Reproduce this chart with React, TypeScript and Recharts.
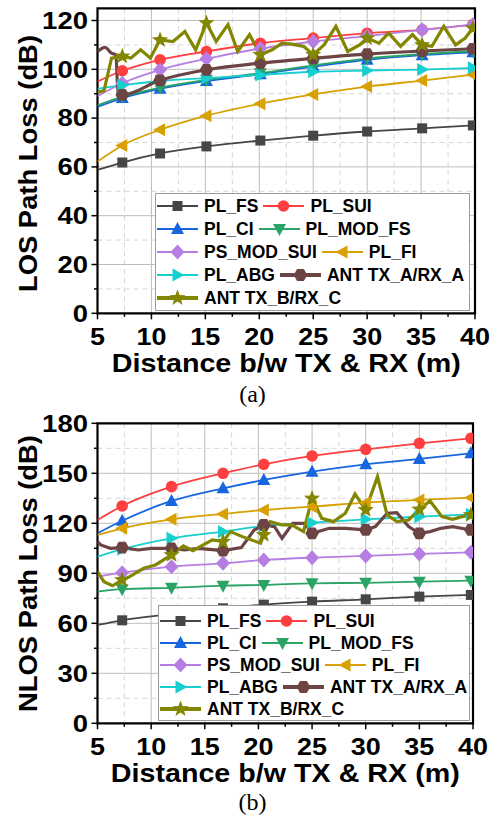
import React from 'react';
import { LineChart, Line, XAxis, YAxis, CartesianGrid, Legend, ReferenceArea } from 'recharts';

const FONT = "'Liberation Sans', Arial, Helvetica, sans-serif";

// ---- (a) LOS: x positions of the markers (first point = curve start at 5 m)
const X_A = [5, 7.3, 10.8, 15.1, 20.1, 25, 30, 35.1, 39.8];
const A_FS = [58.8, 61.8, 65.5, 68.4, 70.8, 72.8, 74.5, 75.8, 77];
const A_SUI = [95, 99.4, 103.9, 107.3, 110.7, 112.8, 114.8, 116.2, 118.3];
const A_CI = [84.6, 88.2, 92, 95.2, 98, 101.1, 103.9, 105.8, 107];
const A_MOD_FS = [85.2, 88.8, 92.5, 95.7, 98.4, 101.6, 104.4, 106.2, 107.4];
const A_MOD_SUI = [89, 94.3, 99.8, 104.3, 108.5, 111.4, 113.6, 116.2, 118.3];
const A_FI = [62.2, 68.8, 75.2, 81, 85.9, 89.7, 92.9, 95.4, 97.8];
const A_ABG = [92, 93.5, 95.2, 96.4, 97.7, 99, 99.5, 99.9, 100.6];
const A_ANT_A_X = [5, 5.7, 6.3, 6.7, 6.9, 7.3, 10.8, 15.1, 20.1, 25, 30, 35.1, 39.8];
const A_ANT_A = [107.3, 109, 106.6, 106, 91, 89.5, 95.5, 99.8, 102.5, 104.5, 106.2, 107.5, 108.4];
const A_ANT_B_X = [5, 5.6, 6.3, 7.3, 8.1, 9, 9.9, 10.8, 12, 13.1, 14.1, 15.1, 16, 17.1, 18, 19.1, 20.1, 21.2,
  22.1, 23, 24.1, 25, 26, 27.1, 28.2, 29.3, 30, 31.1, 32, 33.1, 34.2, 35.1, 36, 37.1, 38.2, 39.1, 39.8];
const A_ANT_B = [90.6, 91.2, 104.6, 105.3, 104.6, 108, 104.6, 112, 111.4, 115.5, 108, 119, 111.4, 118.3, 107.3, 114.2, 106, 108,
  110.7, 110.3, 109.4, 106, 110, 117.6, 107.3, 110, 112.8, 110.7, 114.8, 109.4, 114.2, 110, 109.4, 117.6, 110, 112.8, 116.9];

// ---- (b) NLOS
const X_B = [5, 7.3, 11.9, 16.7, 20.5, 25, 30, 35, 39.8];
const B_FS = [59, 61.8, 65.5, 69, 71.2, 73, 74.4, 76, 77];
const B_SUI = [122, 130.4, 142, 150, 155.4, 160.4, 164.4, 168, 171];
const B_CI = [114, 121.5, 133.4, 141, 146, 151, 155.4, 158.6, 162];
const B_MOD_FS = [79, 80.5, 81.3, 82.6, 83, 84, 84.3, 85, 85.6];
const B_MOD_SUI = [88, 90.4, 94, 96, 98, 99.4, 100.4, 101.6, 102.6];
const B_FI = [113, 117, 122.4, 125.6, 128, 130, 132.4, 134, 135.4];
const B_ABG = [100, 104.5, 111, 115, 118.4, 120.4, 122.4, 124, 125.4];
const B_ANT_A_X = [5, 5.3, 6.2, 7.3, 8.8, 10, 11.9, 13.1, 14.4, 16.7, 18.4, 19.6, 20.5, 21.5, 22.2, 23.2, 24.3, 25,
  26.6, 28.1, 30, 30.9, 32, 32.9, 34, 35, 36, 37, 38.1, 39.8];
const B_ANT_A = [109, 107, 105, 105.4, 104, 105, 105, 104, 105, 103.6, 105.4, 116, 119, 118, 111, 120, 120, 114,
  117, 117, 116, 118, 126, 126.4, 118, 114, 115, 117, 118, 116];
const B_ANT_B_X = [5, 5.6, 6.4, 7.3, 8, 9.3, 10.4, 11.9, 13, 13.9, 15.7, 16.7, 17.4, 18.5, 20.2, 20.5, 21.1, 22.2,
  23.1, 24.2, 25, 25.9, 27, 28.1, 29, 30, 31.1, 32, 32.9, 34, 35, 36, 37.1, 38.1, 39, 39.8];
const B_ANT_B = [91, 85, 82.5, 86, 88, 93, 95, 101, 106.4, 103.6, 110, 109, 115, 112, 108, 113, 121, 119,
  119, 115, 135, 123, 121, 126, 137.6, 128, 148, 125, 121, 122, 128.4, 133.4, 124, 122.4, 124, 125];

const SERIES = [
  { name: 'PL_FS', color: '#464646', shape: 'square' },
  { name: 'PL_SUI', color: '#ff3f3f', shape: 'circle' },
  { name: 'PL_CI', color: '#1766e0', shape: 'up' },
  { name: 'PL_MOD_FS', color: '#2aa464', shape: 'down' },
  { name: 'PS_MOD_SUI', color: '#b67ee3', shape: 'diamond' },
  { name: 'PL_FI', color: '#d8a000', shape: 'left' },
  { name: 'PL_ABG', color: '#18cfcf', shape: 'right' },
  { name: 'ANT TX_A/RX_A', color: '#6d4444', shape: 'hex', ant: true },
  { name: 'ANT TX_B/RX_C', color: '#828600', shape: 'star', ant: true },
];
const LEGEND_ROWS = [[0, 1], [2, 3], [4, 5], [6, 7], [8]];

const poly = (cx: number, cy: number, pts: number[][]) =>
  pts.map(([dx, dy]) => `${cx + dx},${cy + dy}`).join(' ');

function Marker({ shape, cx, cy, color }: any) {
  switch (shape) {
    case 'square':
      return <rect x={cx - 5} y={cy - 5} width={10} height={10} fill={color} />;
    case 'circle':
      return <circle cx={cx} cy={cy} r={5.8} fill={color} />;
    case 'up':
      return <polygon points={poly(cx, cy, [[0, -7], [6.5, 5], [-6.5, 5]])} fill={color} />;
    case 'down':
      return <polygon points={poly(cx, cy, [[0, 7], [6.5, -5], [-6.5, -5]])} fill={color} />;
    case 'left':
      return <polygon points={poly(cx, cy, [[-7, 0], [5, -6.5], [5, 6.5]])} fill={color} />;
    case 'right':
      return <polygon points={poly(cx, cy, [[7, 0], [-5, -6.5], [-5, 6.5]])} fill={color} />;
    case 'diamond':
      return <polygon points={poly(cx, cy, [[0, -7.5], [7, 0], [0, 7.5], [-7, 0]])} fill={color} />;
    case 'hex': {
      const pts = [0, 1, 2, 3, 4, 5].map((i) => {
        const a = (Math.PI / 3) * i;
        return [6.8 * Math.cos(a), 6.8 * Math.sin(a)];
      });
      return <polygon points={poly(cx, cy, pts)} fill={color} />;
    }
    case 'star': {
      const pts = Array.from({ length: 10 }, (_, i) => {
        const a = -Math.PI / 2 + (Math.PI / 5) * i;
        const r = i % 2 === 0 ? 8.5 : 3.6;
        return [r * Math.cos(a), r * Math.sin(a)];
      });
      return <polygon points={poly(cx, cy, pts)} fill={color} />;
    }
    default:
      return null;
  }
}

function LegendBox({ pad, rowH }: { pad: number; rowH: number }) {
  return (
    <div
      style={{
        boxSizing: 'border-box', width: '100%', height: '100%', border: '1px solid #9c9c9c',
        background: '#fff', padding: `${pad}px 0 0 1px`,
      }}
    >
      {LEGEND_ROWS.map((row, i) => (
        <div key={i} style={{ display: 'flex', alignItems: 'center', height: rowH }}>
          {row.map((k) => {
            const s = SERIES[k];
            return (
              <div key={k} style={{ display: 'flex', alignItems: 'center', marginRight: 5 }}>
                <svg width={41} height={18} style={{ display: 'block' }}>
                  <line x1={0} x2={41} y1={9} y2={9} stroke={s.color} strokeWidth={s.ant ? 4 : 2} />
                  <Marker shape={s.shape} cx={20.5} cy={9} color={s.color} />
                </svg>
                <span
                  style={{
                    marginLeft: 6, fontFamily: FONT, fontWeight: 700, fontSize: 17.5,
                    lineHeight: '18px', color: '#000', whiteSpace: 'nowrap',
                  }}
                >
                  {s.name}
                </span>
              </div>
            );
          })}
        </div>
      ))}
    </div>
  );
}

const range = (a: number, b: number, step: number) => {
  const out: number[] = [];
  for (let v = a; v <= b + 1e-9; v += step) out.push(+v.toFixed(2));
  return out;
};

function Panel({ cfg }: { cfg: any }) {
  const W = 490;
  const H = 410;
  const left = 97.5;
  const xAxisH = 60;
  const plotBottom = H - cfg.mb - xAxisH;
  const plotRight = W - cfg.mr;
  const xMajor = range(5, 40, 5);
  const xTicks = range(5, 40, 2.5);
  const yMajor = range(0, cfg.ymax, cfg.ystep);
  const yTicks = range(0, cfg.ymax, cfg.ystep / 2);

  const xTick = ({ x, y, payload }: any) => {
    const major = xMajor.includes(payload.value);
    const s = String(payload.value);
    return (
      <g>
        <line x1={x} x2={x} y1={y} y2={y + (major ? 6 : 3.5)} stroke="#000" strokeWidth={1.5} />
        {major && (
          <text x={x} y={y + 31.5} textAnchor="middle" fontFamily={FONT} fontWeight={700} fontSize={23}
            fill="#000" textLength={15 * s.length} lengthAdjust="spacingAndGlyphs">
            {s}
          </text>
        )}
      </g>
    );
  };

  const yTick = ({ x, y, payload }: any) => {
    const major = yMajor.includes(payload.value);
    const s = String(payload.value);
    return (
      <g>
        <line x1={x - (major ? 6 : 3.5)} x2={x} y1={y} y2={y} stroke="#000" strokeWidth={1.5} />
        {major && (
          <text x={x - 9.5} y={y + 8.2} textAnchor="end" fontFamily={FONT} fontWeight={700} fontSize={23}
            fill="#000" textLength={15.3 * s.length} lengthAdjust="spacingAndGlyphs">
            {s}
          </text>
        )}
      </g>
    );
  };

  const xTitle = () => (
    <g>
      <text x={(left + plotRight) / 2} y={plotBottom + 58.5} textAnchor="middle" fontFamily={FONT}
        fontWeight={700} fontSize={26} fill="#000" textLength={349} lengthAdjust="spacingAndGlyphs">
        Distance b/w TX &amp; RX (m)
      </text>
      <text x={252.5} y={cfg.capY} textAnchor="middle" fontFamily="'Liberation Serif', 'Times New Roman', serif"
        fontSize={24} fill="#000">
        {cfg.caption}
      </text>
    </g>
  );

  const yTitle = () => (
    <text transform={`translate(37, 163.5) rotate(-90)`} textAnchor="middle" fontFamily={FONT}
      fontWeight={700} fontSize={26} fill="#000" textLength={cfg.yTitleLen} lengthAdjust="spacingAndGlyphs">
      {cfg.yTitle}
    </text>
  );

  return (
    <LineChart width={W} height={H} margin={{ top: cfg.mt, right: cfg.mr, left: 0, bottom: cfg.mb }}>
      <CartesianGrid stroke="#d6d6d6" strokeDasharray="5 4"
        horizontalValues={yTicks.filter((v) => !yMajor.includes(v))}
        verticalValues={xTicks.filter((v) => !xMajor.includes(v))} />
      <CartesianGrid stroke="#bdbdbd"
        horizontalValues={yMajor.filter((v) => v > 0)}
        verticalValues={xMajor.filter((v) => v > 5 && v < 40)} />
      <XAxis type="number" dataKey="x" domain={[5, 40]} ticks={xTicks} interval={0} allowDataOverflow
        axisLine={false} tickLine={false} tickSize={0} tickMargin={0} height={xAxisH} tick={xTick}
        label={xTitle} />
      <YAxis type="number" domain={[0, cfg.ydom]} ticks={yTicks} interval={0} allowDataOverflow
        axisLine={false} tickLine={false} tickSize={0} tickMargin={0} width={left} tick={yTick}
        label={yTitle} />
      {cfg.series.map((s: any, i: number) => {
        const meta = SERIES[i];
        const data = s.x.map((xv: number, j: number) => ({ x: xv, y: s.y[j] }));
        return (
          <Line
            key={meta.name}
            name={meta.name}
            data={data}
            dataKey="y"
            type={s.curve}
            stroke={meta.color}
            strokeWidth={meta.ant ? 3.2 : 1.8}
            isAnimationActive={false}
            activeDot={false}
            dot={(p: any) =>
              cfg.marks.includes(p.payload.x) ? (
                <Marker key={`d${p.index}`} shape={meta.shape} cx={p.cx} cy={p.cy} color={meta.color} />
              ) : (
                <g key={`d${p.index}`} />
              )
            }
          />
        );
      })}
      <ReferenceArea x1={5} x2={40} y1={0} y2={cfg.ydom} fill="none" stroke="#000" strokeWidth={2.2}
        ifOverflow="visible" />
      <Legend verticalAlign="middle" align="center" layout="horizontal"
        wrapperStyle={{ left: cfg.lg.left, top: cfg.lg.top, width: cfg.lg.width, height: cfg.lg.height }}
        content={() => <LegendBox pad={cfg.lg.pad} rowH={cfg.lg.rowH} />} />
    </LineChart>
  );
}

const CFG_A = {
  mt: 8.3, mr: 15, mb: 36.7, ymax: 120, ystep: 20, ydom: 125,
  yTitle: 'LOS Path Loss (dB)', yTitleLen: 257, caption: '(a)', capY: 401.5,
  marks: X_A.slice(1),
  lg: { left: 155, top: 193, width: 315, height: 118, pad: 1, rowH: 22.9 },
  series: [
    { x: X_A, y: A_FS, curve: 'monotone' },
    { x: X_A, y: A_SUI, curve: 'monotone' },
    { x: X_A, y: A_CI, curve: 'monotone' },
    { x: X_A, y: A_MOD_FS, curve: 'monotone' },
    { x: X_A, y: A_MOD_SUI, curve: 'monotone' },
    { x: X_A, y: A_FI, curve: 'monotone' },
    { x: X_A, y: A_ABG, curve: 'monotone' },
    { x: A_ANT_A_X, y: A_ANT_A, curve: 'monotone' },
    { x: A_ANT_B_X, y: A_ANT_B, curve: 'linear' },
  ],
};

const CFG_B = {
  mt: 13.3, mr: 17, mb: 36.7, ymax: 180, ystep: 30, ydom: 180,
  yTitle: 'NLOS Path Loss (dB)', yTitleLen: 277, caption: '(b)', capY: 399.7,
  marks: X_B.slice(1),
  lg: { left: 158, top: 195, width: 312, height: 116, pad: 3.6, rowH: 22.2 },
  series: [
    { x: X_B, y: B_FS, curve: 'monotone' },
    { x: X_B, y: B_SUI, curve: 'monotone' },
    { x: X_B, y: B_CI, curve: 'monotone' },
    { x: X_B, y: B_MOD_FS, curve: 'monotone' },
    { x: X_B, y: B_MOD_SUI, curve: 'monotone' },
    { x: X_B, y: B_FI, curve: 'monotone' },
    { x: X_B, y: B_ABG, curve: 'monotone' },
    { x: B_ANT_A_X, y: B_ANT_A, curve: 'linear' },
    { x: B_ANT_B_X, y: B_ANT_B, curve: 'linear' },
  ],
};

export default function App() {
  return (
    <div style={{ position: 'absolute', left: 0, top: 0, width: 490, height: 820, background: '#fff' }}>
      <div style={{ position: 'absolute', left: 0, top: 0 }}>
        <Panel cfg={CFG_A} />
      </div>
      <div style={{ position: 'absolute', left: 0, top: 410 }}>
        <Panel cfg={CFG_B} />
      </div>
    </div>
  );
}
